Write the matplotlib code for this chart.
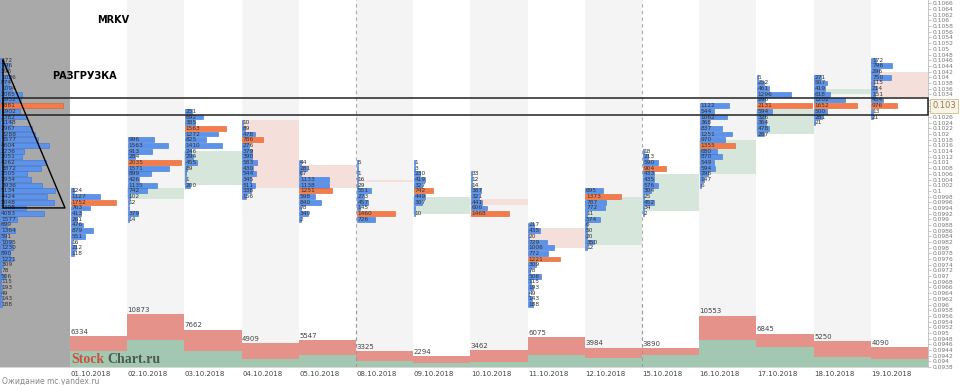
import datetime as dt

import numpy as np
import matplotlib.pyplot as plt
from matplotlib.patches import Rectangle

# ---- data
dates = ["01.10.2018", "02.10.2018", "03.10.2018", "04.10.2018", "05.10.2018",
         "08.10.2018", "09.10.2018", "10.10.2018", "11.10.2018", "12.10.2018",
         "15.10.2018", "16.10.2018", "17.10.2018", "18.10.2018", "19.10.2018"]
day_volume = [6334, 10873, 7662, 4909, 5547, 3325, 2294, 3462,
              6075, 3984, 3890, 10553, 6845, 5250, 4090]
buy_volume = [3300, 5550, 3300, 1650, 2500, 1250, 850, 1000,
              2500, 1850, 2500, 5550, 4100, 2050, 1650]
day_open = [np.nan, 0.0997, 0.1002, 0.1025, 0.1009, 0.1004, 0.0992, 0.0997,
            0.0987, 0.0981, 0.0993, 0.1006, 0.1020, 0.1034, 0.1042]
day_close = [np.nan, 0.1001, 0.1014, 0.1001, 0.1001, 0.1003, 0.0998, 0.0995,
             0.0980, 0.0998, 0.1006, 0.1018, 0.1029, 0.1036, 0.1033]
# volume at price, one list per day, from profile_top downwards in 0.0002 steps
profile_top = [0.1000, 0.1018, 0.1028, 0.1024, 0.1010, 0.1010, 0.1010, 0.1006,
               0.0988, 0.1000, 0.1014, 0.1030, 0.1040, 0.1040, 0.1046]
profile_vol = [
    [124, 1127, 1752, 763, 413, 261, 476, 879, 551, 16, 212, 118],
    [996, 1563, 913, 284, 2035, 1571, 899, 426, 1135, 742, 102, 12, 0, 379, 14],
    [251, 692, 385, 1563, 1272, 825, 1410, 246, 294, 455, 89, 0, 1, 200],
    [10, 89, 478, 786, 276, 379, 390, 583, 430, 544, 345, 511, 338, 156],
    [44, 281, 67, 1133, 1138, 1251, 598, 840, 78, 340, 2],
    [5, 0, 1, 16, 29, 551, 273, 457, 145, 1460, 726],
    [1, 3, 230, 419, 327, 742, 449, 307, 0, 10],
    [33, 12, 14, 387, 321, 441, 606, 1468],
    [217, 435, 20, 729, 1006, 772, 1221, 309, 78, 506, 115, 193, 49, 143, 188],
    [695, 1373, 787, 772, 11, 574, 6, 50, 20, 350, 12],
    [18, 213, 590, 904, 433, 435, 576, 304, 25, 452, 34, 2],
    [1122, 544, 1062, 368, 837, 1251, 970, 1355, 680, 870, 549, 594, 298, 147, 6],
    [5, 252, 461, 1296, 296, 2131, 594, 326, 364, 478, 287],
    [271, 507, 419, 618, 1202, 1652, 500, 281, 21],
    [172, 796, 296, 750, 115, 214, 151, 454, 976, 13, 21],
]
last_price = 0.103
zone_low, zone_high = 0.10267, 0.10327
tri_top, tri_bottom = 0.1046, 0.0994
step = 0.0002
price_min, price_max = 0.0938, 0.10672

BLUE, BLUE_EDGE = "#5b93ea", "#3b73d2"
ORANGE, ORANGE_EDGE = "#f57c4a", "#d5602e"
UP_BODY, DOWN_BODY = "#d7e6db", "#f5dfdb"
VOL_RED, VOL_GREEN = "#e5928a", "#a2c8b2"

n = len(dates)
col_px = (928 - 70) / n
x_left = -70 / col_px
px = 1 / col_px  # one pixel in x data units

fig = plt.figure(figsize=(9.6, 3.85), dpi=100)
ax = fig.add_axes([0, 18 / 385, 928 / 960, 367 / 385])
ax.set_xlim(x_left, n)
ax.set_ylim(price_min, price_max)

# column shading + left summary panel
for i in range(n):
    if i % 2 == 1:
        ax.axvspan(i, i + 1, color="#f4f4f4", lw=0, zorder=0)
ax.axvspan(x_left, 0, color="#a9a9a9", lw=0, zorder=0)

# week boundaries (dashed)
days = [dt.datetime.strptime(d, "%d.%m.%Y") for d in dates]
week_breaks = [i for i in range(1, n) if (days[i] - days[i - 1]).days > 1]
for b in week_breaks:
    ax.axvline(b, color="#aaaaaa", lw=0.8, ls=(0, (3, 3)), zorder=1)

# open/close body behind each profile
for i, (o, c) in enumerate(zip(day_open, day_close)):
    if np.isnan(o):
        continue
    ax.add_patch(Rectangle((i, min(o, c)), 1, abs(c - o),
                           color=UP_BODY if c > o else DOWN_BODY, lw=0, zorder=1))

# daily volume profiles
vol_scale = 0.026 * px  # bar length per contract
totals = {}
for i, (top, vols) in enumerate(zip(profile_top, profile_vol)):
    vols = np.array(vols)
    prices = top - np.arange(len(vols)) * step
    poc = int(np.argmax(vols))
    colors = [ORANGE if k == poc else BLUE for k in range(len(vols))]
    edges = [ORANGE_EDGE if k == poc else BLUE_EDGE for k in range(len(vols))]
    ax.barh(prices, np.maximum(vols * vol_scale, 1.2 * px), left=i + 0.6 * px,
            height=0.00017, color=colors, edgecolor=edges, lw=0.4, zorder=2)
    for p, v in zip(prices, vols):
        totals[round(p, 4)] = totals.get(round(p, 4), 0) + v
        if v > 0:
            ax.text(i + 1.2 * px, p, str(v), fontsize=4.2, color="#333333",
                    va="center", ha="left", zorder=3)

# period profile in the grey panel (sum of the days)
lvl = np.array(sorted(totals, reverse=True))
tot = np.array([totals[k] for k in lvl])
poc = int(np.argmax(tot))
ax.barh(lvl, tot / tot.max() * 63 * px, left=x_left, height=0.00017,
        color=[ORANGE if k == poc else BLUE for k in range(len(tot))],
        edgecolor=[ORANGE_EDGE if k == poc else BLUE_EDGE for k in range(len(tot))],
        lw=0.4, zorder=2)
for p, v in zip(lvl, tot):
    ax.text(x_left + 1 * px, p, str(v), fontsize=4.2, color="#333333",
            va="center", ha="left", zorder=3)

# marked zone and triangle
ax.add_patch(Rectangle((x_left + 3 * px, zone_low), n - x_left - 3 * px,
                       zone_high - zone_low, fill=False, edgecolor="#222222",
                       lw=1.1, zorder=5, clip_on=False))
xa, xb = x_left + 3 * px, x_left + 65 * px
ax.plot([xa, xa, xb, xa], [tri_top, tri_bottom, tri_bottom, tri_top],
        color="black", lw=1.0, zorder=5)

# right price axis; labels under the last-price marker are hidden
ticks = np.round(np.arange(price_min, price_max, step), 4)
ax.yaxis.tick_right()
ax.set_yticks(ticks)
ax.set_yticklabels(["" if abs(t - last_price) < 0.00025 else f"{t:.4f}".rstrip("0")
                    for t in ticks])
ax.tick_params(axis="y", labelsize=4.3, labelcolor="#777777", length=2.5,
               width=0.4, color="#999999", pad=1)
ax.set_xticks([])
for s in ("top", "left"):
    ax.spines[s].set_visible(False)
ax.spines["right"].set_color("#bbbbbb")
ax.spines["right"].set_linewidth(0.6)
ax.spines["bottom"].set_color("#d0d0d0")
ax.spines["bottom"].set_linewidth(0.6)

ax.text(1 + 4 / 928, last_price, f"{last_price:.3f}", transform=ax.get_yaxis_transform(),
        fontsize=6, color="#8a7a5a", va="center", ha="left", zorder=6, clip_on=False,
        bbox=dict(boxstyle="square,pad=0.3", facecolor="#fbf4e4", edgecolor="#cdb98f", lw=0.6))

# date labels
for i, d in enumerate(dates):
    ax.text(i + 0.5 * px, -0.01, d, transform=ax.get_xaxis_transform(),
            fontsize=5, color="#444444", va="top", ha="left")

# daily volume panel at the bottom
vax = fig.add_axes([0, 18 / 385, 928 / 960, 67 / 385])
vax.set_xlim(x_left, n)
vax.set_ylim(0, max(day_volume) * 67 / 53)
vax.patch.set_alpha(0)
vax.axis("off")
xs = np.arange(n)
vax.bar(xs, day_volume, width=1, align="edge", color=VOL_RED, lw=0)
vax.bar(xs, buy_volume, width=1, align="edge", color=VOL_GREEN, lw=0)
for i, v in enumerate(day_volume):
    vax.text(i + 0.5 * px, v + 250, str(v), fontsize=5, color="#444444",
             va="bottom", ha="left")
for b in week_breaks:
    vax.axvline(b, color="#999999", lw=0.8, ls=(0, (3, 3)))

# captions
fig.text(97 / 960, 1 - 20 / 385, "MRKV", fontsize=7, fontweight="bold",
         va="center", ha="left")
fig.text(52 / 960, 1 - 76 / 385, "РАЗГРУЗКА", fontsize=7, fontweight="bold",
         va="center", ha="left")
fig.text(71 / 960, 1 - 363 / 385, "Stock", family="Liberation Serif",
         fontweight="bold", fontsize=10, color="#c9503f", va="baseline")
fig.text(107 / 960, 1 - 363 / 385, "Chart.ru", family="Liberation Serif",
         fontweight="bold", fontsize=10, color="#4d5a4f", va="baseline")
fig.text(2 / 960, 1 - 382 / 385, "Ожидание mc.yandex.ru", fontsize=5.5,
         color="#888888", va="center", ha="left")

fig.savefig("out.png", dpi=100)
